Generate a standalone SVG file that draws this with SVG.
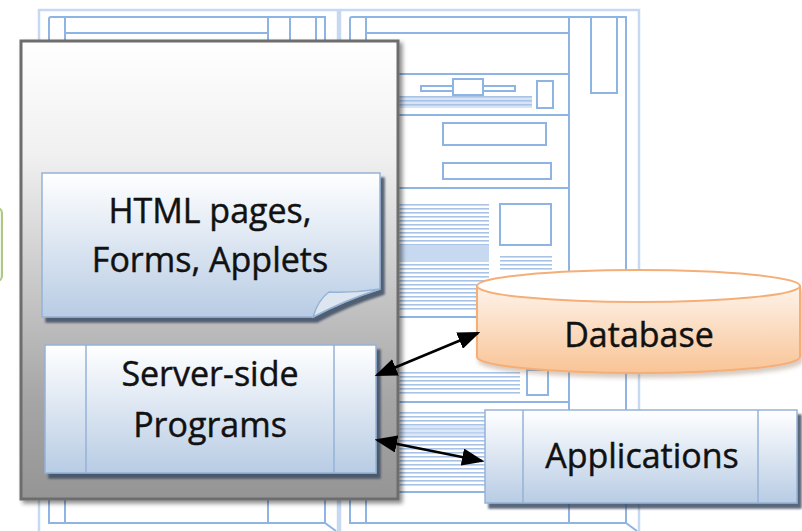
<svg xmlns="http://www.w3.org/2000/svg" xmlns:xlink="http://www.w3.org/1999/xlink" width="802" height="531" viewBox="0 0 802 531">
  <style>
    .pg-out { fill: #ffffff; stroke: #c6d9f1; stroke-width: 2.5; }
    .pg-ln { fill: none; stroke: #8eb4e3; stroke-width: 2; }
    .pg-box { fill: #ffffff; stroke: #8eb4e3; stroke-width: 2; }
    .pg-shade { fill: #c6d9f1; }
    .lbl { font-family: "Open Sans", "Liberation Sans", sans-serif; font-size: 34px; fill: #111111; stroke: #111111; stroke-width: 0.45; text-anchor: middle; }
    .blue-box { fill: url(#gBlue); stroke: #95b3d7; stroke-width: 1.5; }
    .blue-div { stroke: #95b3d7; stroke-width: 1.5; fill: none; }
    .conn { stroke: #000000; stroke-width: 2.5; fill: none; marker-start: url(#head); marker-end: url(#head); }
  </style>
  <defs>
    <linearGradient id="gGrey" x1="0" y1="0" x2="0" y2="1">
      <stop offset="0" stop-color="#ffffff"/>
      <stop offset="0.25" stop-color="#f0f0f0"/>
      <stop offset="0.55" stop-color="#c6c6c6"/>
      <stop offset="0.78" stop-color="#a6a6a6"/>
      <stop offset="1" stop-color="#959595"/>
    </linearGradient>
    <linearGradient id="gBlue" x1="0" y1="0" x2="0" y2="1">
      <stop offset="0" stop-color="#ffffff"/>
      <stop offset="1" stop-color="#b8cce4"/>
    </linearGradient>
    <linearGradient id="gOrange" x1="0" y1="0" x2="0" y2="1">
      <stop offset="0" stop-color="#fef3ea"/>
      <stop offset="1" stop-color="#f9c496"/>
    </linearGradient>
    <pattern id="txt" width="8" height="4" patternUnits="userSpaceOnUse">
      <rect x="0" y="0" width="8" height="1.6" fill="#a9c3e6"/>
    </pattern>
    <filter id="shGrey" x="-5%" y="-5%" width="115%" height="115%">
      <feDropShadow dx="3" dy="3" stdDeviation="2" flood-color="#000000" flood-opacity="0.45"/>
    </filter>
    <filter id="shDark" x="-5%" y="-5%" width="115%" height="120%">
      <feDropShadow dx="4" dy="5" stdDeviation="1" flood-color="#3e4d63" flood-opacity="0.85"/>
    </filter>
    <filter id="shSoft" x="-5%" y="-5%" width="115%" height="125%">
      <feDropShadow dx="2" dy="4" stdDeviation="2" flood-color="#8a6a50" flood-opacity="0.35"/>
    </filter>
    <marker id="head" viewBox="0 0 18 14" refX="16" refY="7" markerWidth="9" markerHeight="7" orient="auto-start-reverse" markerUnits="strokeWidth">
      <path d="M0,0 L18,7 L0,14 Z" fill="#000000"/>
    </marker>

    <!-- one wireframe web page, drawn at the right-hand position -->
    <g id="page">
      <rect class="pg-out" x="340" y="10" width="299" height="540"/>
      <path class="pg-ln" d="M350,523 V19 Q350,17 352,17 H626 V523 Z"/>
      <path class="pg-ln" d="M626,523 L637,531"/>
      <path class="pg-ln" d="M366,17 V523 M366,33 H569 M569,17 V523 M366,74 H569 M366,115 H569 M366,188 H569 M366,317 H569 M366,402 H569 M366,492 H569"/>
      <rect class="pg-box" x="591" y="17" width="26" height="76"/>
      <!-- slider row -->
      <rect class="pg-shade" x="368" y="96" width="164" height="12" opacity="0.7"/>
      <rect x="368" y="96" width="164" height="12" fill="url(#txt)"/>
      <rect class="pg-box" x="421" y="86" width="94" height="5"/>
      <rect class="pg-box" x="453" y="79" width="30" height="16"/>
      <rect class="pg-box" x="537" y="81" width="16" height="27"/>
      <!-- form fields -->
      <rect class="pg-box" x="443" y="123" width="103" height="22"/>
      <rect class="pg-box" x="443" y="163" width="108" height="16"/>
      <!-- article text -->
      <rect x="368" y="204" width="121" height="108" fill="url(#txt)"/>
      <rect class="pg-shade" x="368" y="245" width="121" height="17"/>
      <rect class="pg-box" x="500" y="204" width="51" height="41"/>
      <rect x="500" y="254" width="52" height="18" fill="url(#txt)"/>
      <rect x="368" y="370" width="152" height="25" fill="url(#txt)"/>
      <rect class="pg-box" x="527" y="370" width="21" height="25"/>
      <rect x="368" y="411" width="130" height="76" fill="url(#txt)"/>
      <rect class="pg-shade" x="368" y="426" width="120" height="10" opacity="0.6"/>
    </g>
  </defs>

  <rect width="802" height="531" fill="#ffffff"/>

  <!-- neighbouring shape, cut off at the left edge -->
  <rect x="-40" y="208" width="42" height="73" rx="5" fill="#f2f6ea" stroke="#aec783" stroke-width="2"/>

  <!-- background wireframe pages -->
  <g id="pages">
    <use xlink:href="#page" href="#page" transform="translate(-301,0)"/>
    <use xlink:href="#page" href="#page"/>
  </g>

  <!-- web server container -->
  <g id="server">
    <rect x="21" y="41" width="377" height="458" fill="url(#gGrey)" stroke="#6d6d6d" stroke-width="3" filter="url(#shGrey)"/>
  </g>

  <g id="html-pages">
    <g filter="url(#shDark)">
      <path d="M42,173 H380 V289 Q345,300 313,317 H42 Z" fill="url(#gBlue)" stroke="#95b3d7" stroke-width="1.5"/>
    </g>
    <path d="M313,317 Q318,300 329,292 Q355,293 380,289 Q345,300 313,317 Z" fill="#dde6f0" stroke="#95b3d7" stroke-width="1.5"/>
    <text class="lbl" x="210" y="223">HTML pages,</text>
    <text class="lbl" x="210" y="272">Forms, Applets</text>
  </g>

  <g id="server-programs">
    <rect class="blue-box" x="45" y="345" width="331" height="128" filter="url(#shDark)"/>
    <path class="blue-div" d="M86,345 V473 M334,345 V473"/>
    <text class="lbl" x="210" y="386">Server-side</text>
    <text class="lbl" x="210" y="437">Programs</text>
  </g>

  <g id="database">
    <path d="M477,286 V357 A161.5,16 0 0 0 800,357 V286 Z" fill="url(#gOrange)" stroke="#f6ae77" stroke-width="2" filter="url(#shSoft)"/>
    <ellipse cx="638.5" cy="286" rx="161.5" ry="16" fill="#ffffff" stroke="#f6ae77" stroke-width="2"/>
    <text class="lbl" x="639" y="347">Database</text>
  </g>

  <g id="applications">
    <rect class="blue-box" x="485" y="410" width="312" height="93" filter="url(#shDark)"/>
    <path class="blue-div" d="M523,410 V503 M758,410 V503"/>
    <text class="lbl" x="642" y="468">Applications</text>
  </g>

  <g id="connectors">
    <line class="conn" x1="377" y1="375" x2="478" y2="333"/>
    <line class="conn" x1="377" y1="440" x2="482" y2="461"/>
  </g>
</svg>
